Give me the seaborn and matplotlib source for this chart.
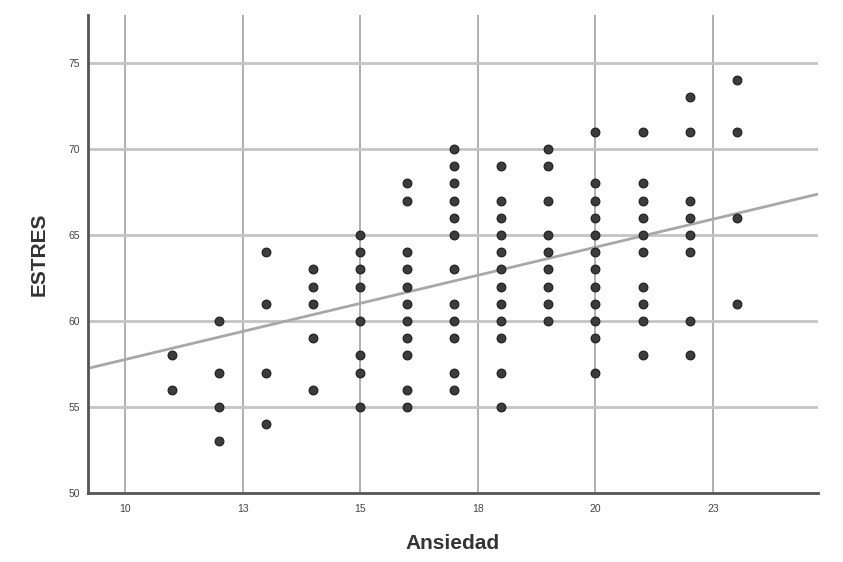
import matplotlib
matplotlib.use("Agg")
import matplotlib.pyplot as plt
import seaborn as sns
import pandas as pd

# ESTRES values observed at each Ansiedad score
estres_by_ansiedad = {
    11: [58, 56],
    12: [60, 57, 55, 53],
    13: [64, 61, 57, 54],
    14: [63, 62, 61, 59, 56],
    15: [65, 64, 63, 62, 60, 58, 57, 55],
    16: [68, 67, 64, 63, 62, 61, 60, 59, 58, 56, 55],
    17: [70, 69, 68, 67, 66, 65, 63, 61, 60, 59, 57, 56],
    18: [69, 67, 66, 65, 64, 63, 62, 61, 60, 59, 57, 55],
    19: [70, 69, 67, 65, 64, 63, 62, 61, 60],
    20: [71, 68, 67, 66, 65, 64, 63, 62, 61, 60, 59, 57],
    21: [71, 68, 67, 66, 65, 64, 62, 61, 60, 58],
    22: [73, 71, 67, 66, 65, 64, 60, 58],
    23: [74, 71, 66, 61],
}
# fitted line (fit includes overlapping cases not visible)
fit_intercept = 51.23
fit_slope = 0.653

x_ticks = [10, 12.5, 15, 17.5, 20, 22.5]
x_tick_labels = ["10", "13", "15", "18", "20", "23"]
y_ticks = [50, 55, 60, 65, 70, 75]
y_tick_labels = ["50", "55", "60", "65", "70", "75"]

ansiedad = [a for a, ys in estres_by_ansiedad.items() for _ in ys]
estres = [y for ys in estres_by_ansiedad.values() for y in ys]
df = pd.DataFrame({"Ansiedad": ansiedad, "ESTRES": estres})

sns.set_theme(style="white")
plt.rcParams["font.family"] = ["Liberation Sans", "DejaVu Sans"]

fig = plt.figure(figsize=(8.43, 5.62), dpi=100)
ax = fig.add_axes([88 / 843, 1 - 493 / 562, 730 / 843, 478 / 562])
ax.set_xlim(9.213, 24.73)
ax.set_ylim(50, 77.79)

for xv in x_ticks:
    ax.axvline(xv, color="#9a9a9a", lw=1.1, zorder=0)
for yv in y_ticks[1:]:
    ax.axhline(yv, color="#c4c4c4", lw=2.0, zorder=0)

ax.axline((0, fit_intercept), slope=fit_slope, color="#a8a8a8", lw=2.0, zorder=1)
sns.scatterplot(data=df, x="Ansiedad", y="ESTRES", ax=ax, s=40, color="#3c3c3c",
                edgecolor="#1e1e1e", linewidth=0.8, zorder=3)

ax.set_xlim(9.213, 24.73)
ax.set_ylim(50, 77.79)
ax.set_xticks(x_ticks)
ax.set_xticklabels(x_tick_labels)
ax.set_yticks(y_ticks)
ax.set_yticklabels(y_tick_labels)
ax.tick_params(axis="both", labelsize=7.5, colors="#444444", length=0, pad=8)
ax.tick_params(axis="y", pad=6)

for s in ["top", "right"]:
    ax.spines[s].set_visible(False)
for s in ["left", "bottom"]:
    ax.spines[s].set_color("#555555")
    ax.spines[s].set_linewidth(2.0)

ax.set_xlabel("Ansiedad", fontsize=15, fontweight="bold", color="#333333", labelpad=14)
ax.set_ylabel("ESTRES", fontsize=15, fontweight="bold", color="#333333", labelpad=14)

fig.savefig("out.png", dpi=100, facecolor="white")
